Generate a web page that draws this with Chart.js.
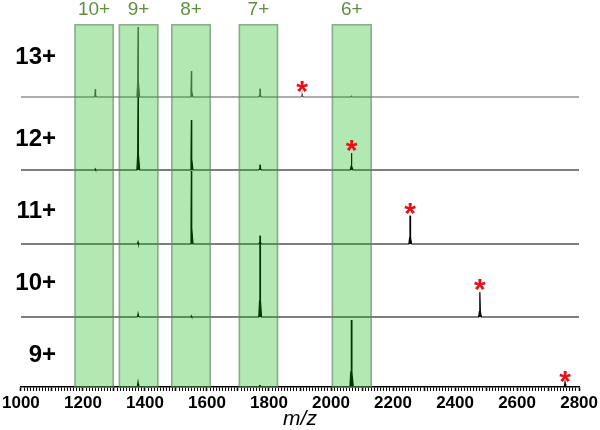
<!DOCTYPE html>
<html><head><meta charset="utf-8">
<script src="https://cdn.jsdelivr.net/npm/chart.js@4.4.0/dist/chart.umd.min.js"></script>
<style>html,body{margin:0;padding:0;background:#fff}canvas{display:block}</style>
</head><body>
<canvas id="c" width="600" height="430"></canvas>
<script>
// ---------------- data ----------------
const traceLabels = ['13+', '12+', '11+', '10+', '9+'];
const traceOffsets = [290, 217, 143, 70, 0];          // vertical stacking offset of each spectrum
const productLabels = ['10+', '9+', '8+', '7+', '6+'];
const productMz = [1240, 1378, 1550, 1771, 2066];
const bandLow = [1172, 1315, 1484, 1702, 2002];
const bandHigh = [1300, 1444, 1613, 1830, 2132];
const productHeights13 = [8, 70, 26, 8, 1.5];
const productHeights12 = [1, 73, 50, 5, 0];
const productHeights11 = [0, 2, 73, 8, 0];
const productHeights10 = [0, 3, 1, 73, 0];
const productHeights9 = [0, 3, 0, 1, 67];
const precursorMz = [1907, 2066, 2255, 2480, 2755];
const precursorHeights = [3, 17, 28, 25, 3];
const xMin = 1000, xMax = 2800;
const xTickLabels = [1000, 1200, 1400, 1600, 1800, 2000, 2200, 2400, 2600, 2800];
const xTitle = 'm/z';

// ---------------- styles ----------------
const lineColors = ['#5a5a5a', '#000', '#000', '#000', '#000'];
const lineWidths = [1.1, 1.2, 1.2, 1.2, 1.8];
const labelLift = [40, 31, 33, 34, 32];
const bandFill = 'rgba(0,180,0,0.30)';
const bandStroke = 'rgba(105,125,105,0.55)';
const bandLabelColor = '#5e8f3e';
const starColor = '#e8101c';
const FONT = '"Liberation Sans", Arial, sans-serif';

const productHeights = [productHeights13, productHeights12, productHeights11, productHeights10, productHeights9];

function peakPoints(m, h, off) {
  const s = h * 0.22;
  return [
    {x: m - 4, y: off}, {x: m - 1.5, y: off + s}, {x: m - 0.3, y: off + h},
    {x: m + 0.3, y: off + h}, {x: m + 1.5, y: off + s}, {x: m + 5, y: off}
  ];
}

const datasets = traceLabels.map((lab, i) => {
  const off = traceOffsets[i];
  const peaks = [];
  productMz.forEach((m, j) => { if (productHeights[i][j] > 0 && m !== precursorMz[i]) peaks.push([m, productHeights[i][j]]); });
  peaks.push([precursorMz[i], precursorHeights[i]]);
  peaks.sort((a, b) => a[0] - b[0]);
  const pts = [{x: xMin, y: off}];
  peaks.forEach(p => pts.push(...peakPoints(p[0], p[1], off)));
  pts.push({x: xMax, y: off});
  return {
    label: lab, data: pts, borderColor: lineColors[i], backgroundColor: lineColors[i],
    borderWidth: lineWidths[i], pointRadius: 0, tension: 0, fill: {value: off}
  };
});

const overlayPlugin = {
  id: 'overlay',
  afterDatasetsDraw(chart) {
    const {ctx, chartArea: ca, scales: {x, y}} = chart;
    ctx.save();
    bandLow.forEach((lo, i) => {
      const x1 = x.getPixelForValue(lo), x2 = x.getPixelForValue(bandHigh[i]);
      ctx.fillStyle = bandFill;
      ctx.fillRect(x1, ca.top, x2 - x1, ca.bottom - ca.top);
      ctx.strokeStyle = bandStroke;
      ctx.lineWidth = 1.6;
      ctx.strokeRect(x1 + 0.8, ca.top + 0.8, x2 - x1 - 1.6, ca.bottom - ca.top - 0.8);
      ctx.fillStyle = bandLabelColor;
      ctx.font = '19px ' + FONT;
      ctx.textAlign = 'center';
      ctx.textBaseline = 'middle';
      ctx.fillText(productLabels[i], (x1 + x2) / 2, ca.top - 14);
    });
    // trace labels
    ctx.fillStyle = '#000';
    ctx.font = 'bold 24px ' + FONT;
    ctx.textAlign = 'right';
    ctx.textBaseline = 'middle';
    traceLabels.forEach((lab, i) => {
      ctx.fillText(lab, 56, y.getPixelForValue(traceOffsets[i]) - labelLift[i]);
    });
    // stars above precursor peaks
    ctx.fillStyle = starColor;
    ctx.font = 'bold 30px ' + FONT;
    ctx.textAlign = 'center';
    ctx.textBaseline = 'alphabetic';
    const mt = ctx.measureText('*');
    const mid = (mt.actualBoundingBoxAscent - mt.actualBoundingBoxDescent) / 2;
    precursorMz.forEach((m, i) => {
      const px = x.getPixelForValue(m);
      const top = y.getPixelForValue(traceOffsets[i] + precursorHeights[i]);
      ctx.fillText('*', px, top - 7 + mid);
    });
    ctx.restore();
  }
};

new Chart(document.getElementById('c'), {
  type: 'line',
  data: {datasets},
  options: {
    responsive: false, animation: false, devicePixelRatio: 1,
    layout: {padding: {left: 19, right: 20, top: 24, bottom: 0}},
    plugins: {legend: {display: false}, tooltip: {enabled: false}},
    scales: {
      x: {
        type: 'linear', min: xMin, max: xMax,
        afterFit(s) { s.height = 43; },
        border: {color: '#000', width: 1.5},
        grid: {drawOnChartArea: false, drawTicks: true, tickLength: 4, color: '#000',
               tickWidth: c => (c.tick && c.tick.value % 100 === 0) ? 1.6 : 1},
        ticks: {
          stepSize: 10, autoSkip: false, maxRotation: 0, padding: 2, color: '#000',
          font: {family: FONT, size: 17, weight: 'bold'},
          callback: v => xTickLabels.includes(v) ? String(v) : ''
        },
        title: {display: true, text: xTitle, color: '#000', padding: {top: 0, bottom: 0},
                font: {family: FONT, size: 21, style: 'italic', lineHeight: 1}}
      },
      y: {display: false, min: 0, max: 363}
    }
  },
  plugins: [overlayPlugin]
});
</script>
</body></html>
